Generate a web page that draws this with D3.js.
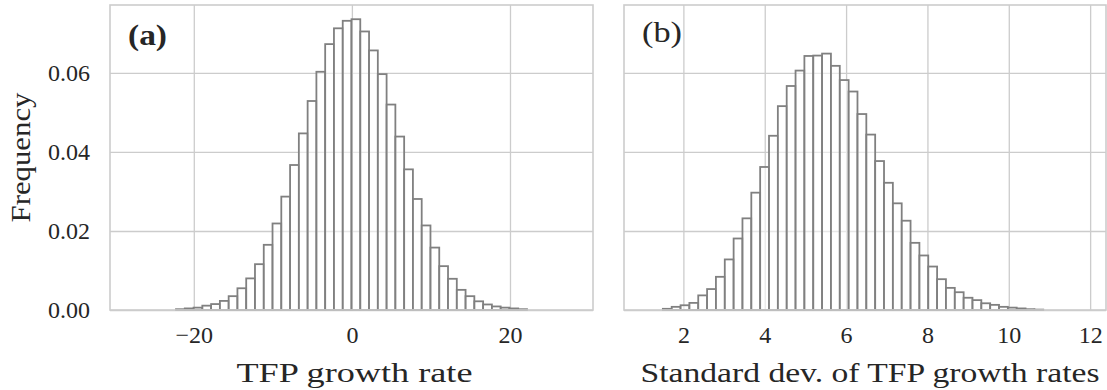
<!DOCTYPE html>
<html>
<head>
<meta charset="utf-8">
<script src="https://cdn.jsdelivr.net/npm/d3@7"></script>
<style>
  html, body { margin: 0; padding: 0; background: #fff; }
  svg { display: block; }
  text { font-family: "Liberation Serif", "DejaVu Serif", serif; fill: #262626; }
</style>
</head>
<body>
<svg id="chart" width="1107" height="390"></svg>
<script>
// ---- Data ----
// Panel (a): TFP growth rate histogram (50 bins)
const binStartA = -27.8;
const binWidthA = 1.11;
const freqA = [
  0, 0, 0, 0, 0,
  0.0002, 0.0004, 0.0006, 0.0011, 0.0015,
  0.0023, 0.0035, 0.0055, 0.0080, 0.0116,
  0.0165, 0.0219, 0.0287, 0.0367, 0.0447,
  0.0529, 0.0603, 0.0673, 0.0713, 0.0732,
  0.0736, 0.0705, 0.0657, 0.0597, 0.0520,
  0.0439, 0.0356, 0.0281, 0.0214, 0.0158,
  0.0111, 0.0079, 0.0051, 0.0035, 0.0022,
  0.0014, 0.0009, 0.0006, 0.0004, 0.0002,
  0, 0, 0, 0, 0
];
// Panel (b): standard deviation of TFP growth rates histogram (50 bins)
const binStartB = 1.06;
const binWidthB = 0.2175;
const freqB = [
  0, 0, 0.0003, 0.0008, 0.0012,
  0.0018, 0.0037, 0.0053, 0.0084, 0.0128,
  0.0181, 0.0232, 0.0297, 0.0362, 0.0441,
  0.0516, 0.0567, 0.0606, 0.0643, 0.0644,
  0.0649, 0.0618, 0.0582, 0.0553, 0.0496,
  0.0444, 0.0377, 0.0322, 0.0270, 0.0226,
  0.0170, 0.0138, 0.0110, 0.0078, 0.0056,
  0.0045, 0.0031, 0.0025, 0.0017, 0.0013,
  0.0008, 0.0006, 0.0004, 0.0002, 0.0001,
  0, 0, 0, 0, 0
];
const xTicksA = [-20, 0, 20];
const xTicksB = [2, 4, 6, 8, 10, 12];
const yTicks = [0, 0.02, 0.04, 0.06];
const xDomainA = [-30.6, 30.5];
const xDomainB = [0.54, 12.39];
const yDomain = [0, 0.0772];
const xLabelA = "TFP growth rate";
const xLabelB = "Standard dev. of TFP growth rates";
const yLabel = "Frequency";
const panelLabels = ["(a)", "(b)"];

// ---- Layout ----
const svg = d3.select("#chart");
const plotTop = 5, plotBottom = 310;
const panels = [
  { left: 110, right: 593, start: binStartA, width: binWidthA, freq: freqA, ticks: xTicksA, domain: xDomainA, label: xLabelA, tag: panelLabels[0], bold: true, labelW: 236, tagW: 39, tagY: 45 },
  { left: 624, right: 1106, start: binStartB, width: binWidthB, freq: freqB, ticks: xTicksB, domain: xDomainB, label: xLabelB, tag: panelLabels[1], bold: false, labelW: 459, tagW: 40, tagY: 42 }
];
const y = d3.scaleLinear().domain(yDomain).range([plotBottom, plotTop]);
const gridColor = "#cccccc";
const fmtX = d => (d < 0 ? "\u2212" + Math.abs(d) : String(d));

panels.forEach((p, pi) => {
  const x = d3.scaleLinear().domain(p.domain).range([p.left, p.right]);
  const g = svg.append("g");

  // vertical gridlines
  g.append("g")
    .attr("transform", `translate(0,${plotBottom})`)
    .call(d3.axisBottom(x).tickValues(p.ticks).tickSize(-(plotBottom - plotTop)).tickFormat(""))
    .call(s => s.select(".domain").remove())
    .call(s => s.selectAll("line").attr("stroke", gridColor).attr("stroke-width", 1.3));
  // horizontal gridlines
  g.append("g")
    .attr("transform", `translate(${p.left},0)`)
    .call(d3.axisLeft(y).tickValues(yTicks).tickSize(-(p.right - p.left)).tickFormat(""))
    .call(s => s.select(".domain").remove())
    .call(s => s.selectAll("line").attr("stroke", gridColor).attr("stroke-width", 1.3));

  // bars
  const bins = p.freq.map((v, i) => ({ x0: p.start + i * p.width, x1: p.start + (i + 1) * p.width, v }));
  g.append("g").selectAll("rect")
    .data(bins.filter(b => b.v > 0))
    .join("rect")
    .attr("x", d => x(d.x0))
    .attr("width", d => x(d.x1) - x(d.x0))
    .attr("y", d => y(d.v))
    .attr("height", d => y(0) - y(d.v))
    .attr("fill", "#ffffff")
    .attr("fill-opacity", 0.55)
    .attr("stroke", "#808080")
    .attr("stroke-width", 1.8);

  // frame
  g.append("rect")
    .attr("x", p.left).attr("y", plotTop)
    .attr("width", p.right - p.left).attr("height", plotBottom - plotTop)
    .attr("fill", "none").attr("stroke", gridColor).attr("stroke-width", 1.6);

  // x tick labels
  const xa = g.append("g")
    .attr("transform", `translate(0,${plotBottom})`)
    .call(d3.axisBottom(x).tickValues(p.ticks).tickSize(0).tickPadding(0).tickFormat(fmtX));
  xa.select(".domain").remove();
  xa.selectAll("text")
    .attr("y", 33).attr("dy", null)
    .style("font-family", "'Liberation Serif', serif")
    .style("font-size", "24px").attr("fill", "#262626");

  // y tick labels (left panel only)
  if (pi === 0) {
    const ya = g.append("g")
      .attr("transform", `translate(${p.left},0)`)
      .call(d3.axisLeft(y).tickValues(yTicks).tickSize(0).tickPadding(20).tickFormat(d3.format(".2f")));
    ya.select(".domain").remove();
    ya.selectAll("text")
      .attr("dy", "0.33em")
      .style("font-family", "'Liberation Serif', serif")
      .style("font-size", "24px").attr("fill", "#262626");
  }

  // x axis label
  g.append("text")
    .attr("x", (p.left + p.right) / 2 + (pi === 1 ? 5 : 3))
    .attr("y", 382)
    .attr("text-anchor", "middle")
    .attr("textLength", p.labelW)
    .attr("lengthAdjust", "spacingAndGlyphs")
    .style("font-size", "28px")
    .text(p.label);

  // panel tag
  g.append("text")
    .attr("x", p.left + 18)
    .attr("y", p.tagY)
    .attr("textLength", p.tagW)
    .attr("lengthAdjust", "spacingAndGlyphs")
    .style("font-size", "30px")
    .style("font-weight", p.bold ? "bold" : "normal")
    .text(p.tag);
});

// y axis label
svg.append("text")
  .attr("transform", `translate(30,${(plotTop + plotBottom) / 2}) rotate(-90)`)
  .attr("text-anchor", "middle")
  .attr("textLength", 130)
  .attr("lengthAdjust", "spacingAndGlyphs")
  .style("font-size", "28px")
  .text(yLabel);
</script>
</body>
</html>
